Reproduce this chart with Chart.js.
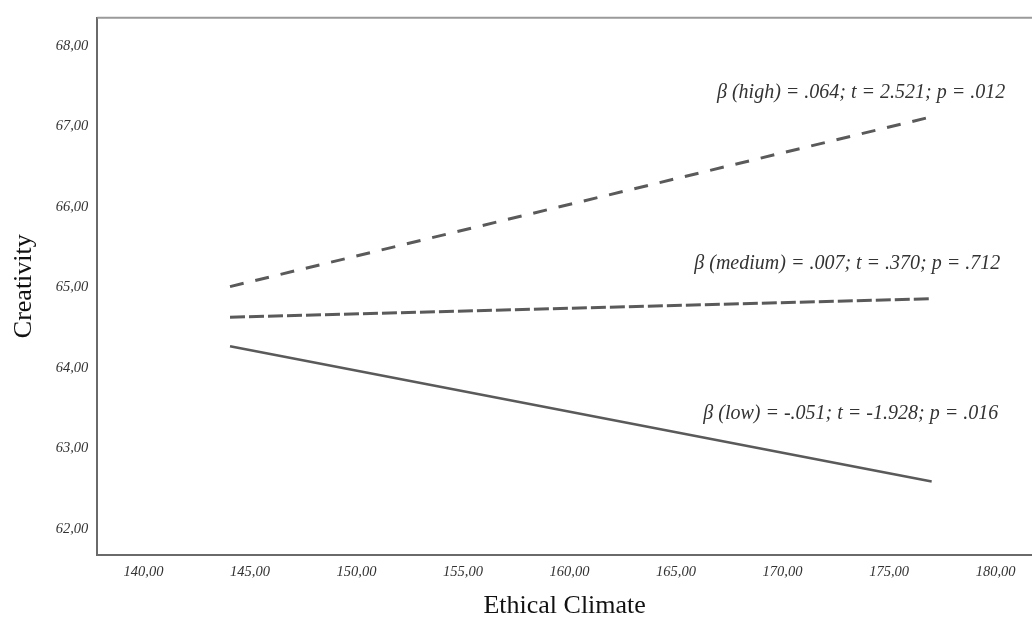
<!DOCTYPE html>
<html>
<head>
<meta charset="utf-8">
<script src="https://cdn.jsdelivr.net/npm/chart.js@4/dist/chart.umd.min.js"></script>
<style>
html,body{margin:0;padding:0;background:#fff;overflow:hidden;}
#wrap{width:1032px;height:619px;position:relative;}
</style>
</head>
<body>
<div id="wrap"><canvas id="c" width="1032" height="619"></canvas></div>
<script>
// Data
const xStart = 144.06;
const xEnd = 177.0;
const highValues = [65.01, 67.12];
const mediumValues = [64.63, 64.86];
const lowValues = [64.27, 62.59];
const yTickValues = [62, 63, 64, 65, 66, 67, 68];
const xTickValues = [140, 145, 150, 155, 160, 165, 170, 175, 180];
const annotationTexts = [
  "β (high) = .064; t = 2.521; p = .012",
  "β (medium) = .007; t = .370; p = .712",
  "β (low) = -.051; t = -1.928; p = .016"
];
const annotationX = [180.45, 180.22, 180.12];
const annotationY = [67.42, 65.30, 63.43];

const fmt = v => v.toFixed(2).replace('.', ',');

const frame = {
  id: 'frame',
  afterDraw(chart) {
    const {ctx, chartArea: a} = chart;
    ctx.save();
    ctx.strokeStyle = '#9a9a9a';
    ctx.lineWidth = 2;
    ctx.beginPath();
    ctx.moveTo(a.left, a.top);
    ctx.lineTo(a.right, a.top);
    ctx.stroke();
    ctx.restore();
  }
};
const notes = {
  id: 'notes',
  afterDatasetsDraw(chart) {
    const {ctx, scales} = chart;
    ctx.save();
    ctx.font = 'italic 20px "Liberation Serif", "Times New Roman", serif';
    ctx.fillStyle = '#333';
    ctx.textAlign = 'right';
    ctx.textBaseline = 'middle';
    annotationTexts.forEach((t, i) => {
      ctx.fillText(t, scales.x.getPixelForValue(annotationX[i]), scales.y.getPixelForValue(annotationY[i]));
    });
    ctx.restore();
  }
};

new Chart(document.getElementById('c'), {
  type: 'line',
  data: {
    datasets: [
      { label: 'high', data: [{x: xStart, y: highValues[0]}, {x: xEnd, y: highValues[1]}],
        borderColor: '#5a5a5a', borderWidth: 3, borderDash: [14, 12], pointRadius: 0, fill: false },
      { label: 'medium', data: [{x: xStart, y: mediumValues[0]}, {x: xEnd, y: mediumValues[1]}],
        borderColor: '#5a5a5a', borderWidth: 3, borderDash: [15, 4], pointRadius: 0, fill: false },
      { label: 'low', data: [{x: xStart, y: lowValues[0]}, {x: xEnd, y: lowValues[1]}],
        borderColor: '#5a5a5a', borderWidth: 2.5, pointRadius: 0, fill: false }
    ]
  },
  options: {
    responsive: false,
    animation: false,
    devicePixelRatio: 1,
    layout: { padding: { left: 0, right: 0, top: 15, bottom: 0 } },
    plugins: { legend: { display: false }, tooltip: { enabled: false } },
    scales: {
      x: {
        type: 'linear',
        min: 137.83, max: 181.71,
        afterFit: s => { s.height = 64.3; },
        afterBuildTicks: s => { s.ticks = xTickValues.map(v => ({value: v})); },
        grid: { display: false, drawTicks: false },
        border: { display: true, color: '#6a6a6a', width: 2 },
        ticks: { padding: 9, color: '#333', font: { family: '"Liberation Serif", serif', style: 'italic', size: 14.5 },
                 callback: v => fmt(v), maxRotation: 0, autoSkip: false },
        title: { display: true, text: 'Ethical Climate', color: '#111',
                 font: { family: '"Liberation Serif", serif', size: 26, lineHeight: 1 }, padding: { top: 0, bottom: 0 } }
      },
      y: {
        min: 61.68, max: 68.35,
        afterFit: s => { s.width = 97.3; },
        afterBuildTicks: s => { s.ticks = yTickValues.map(v => ({value: v})); },
        grid: { display: false, drawTicks: false },
        border: { display: true, color: '#6a6a6a', width: 2 },
        ticks: { padding: 9, color: '#333', font: { family: '"Liberation Serif", serif', style: 'italic', size: 14.5 },
                 callback: v => fmt(v), autoSkip: false },
        title: { display: true, text: 'Creativity', color: '#111',
                 font: { family: '"Liberation Serif", serif', size: 26, lineHeight: 1 }, padding: { top: 11, bottom: 0 } }
      }
    }
  },
  plugins: [frame, notes]
});
</script>
</body>
</html>
